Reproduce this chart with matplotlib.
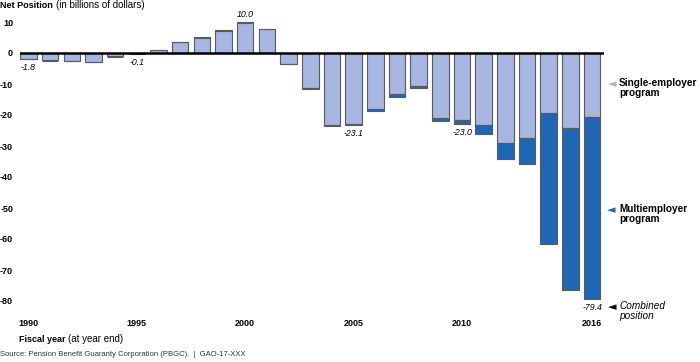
"""
Net position of PBGC single-employer and multiemployer programs, 1990-2016
"""
import matplotlib.pyplot as plt
import numpy as np

plt.rcParams['font.family'] = ['Liberation Sans', 'DejaVu Sans']

# Dữ liệu (tỷ USD)
years = np.arange(1990, 2017)
single = [-1.9, -2.5, -2.7, -2.9, -1.2, -0.3, 0.9, 3.5, 5.0, 7.0, 9.7, 7.7, -3.6, -11.2,
          -23.3, -22.8, -18.1, -13.1, -10.7, -21.1, -21.6, -23.3, -29.1, -27.4, -19.3,
          -24.1, -20.6]
multi = [0.1, 0.1, 0.1, 0.1, 0.1, 0.2, 0.2, 0.2, 0.2, 0.3, 0.3, 0.1, 0.16, -0.26,
         -0.24, -0.34, -0.74, -0.96, -0.47, -0.87, -1.4, -2.8, -5.2, -8.3, -42.4,
         -52.3, -58.8]
labeled_years = [1990, 1995, 2000, 2005, 2010, 2016]
ytick_values = [10, 0, -10, -20, -30, -40, -50, -60, -70, -80]

light = '#a7b6e0'
dark = '#1f67b4'
edge = '#5a5a5a'

single = np.array(single)
multi = np.array(multi)
combined = single + multi
light_h = np.where(multi < 0, single, combined)
dark_h = np.where(multi < 0, multi, 0)

W, H = 700, 362
fig = plt.figure(figsize=(W / 100, H / 100), dpi=100)
ax = fig.add_axes([20 / W, 1 - 316.5 / H, 584 / W, (316.5 - 12.7) / H])


def fx(px):
    return px / W


def fy(py):
    return 1 - py / H


def two_part(x, y, bold_txt, rest_txt, bsize, rsize, **kw):
    # Ghép phần chữ đậm và phần chữ thường liền nhau
    t = fig.text(fx(x), fy(y), bold_txt, fontsize=bsize, fontweight='bold', va='center', **kw)
    fig.canvas.draw()
    bb = t.get_window_extent()
    fig.text(fx(bb.x1 + 3), fy(y), rest_txt, fontsize=rsize, va='center', **kw)


ax.bar(years, light_h, width=0.76, color=light, edgecolor=edge, linewidth=0.8, zorder=2)
ax.bar(years, dark_h, width=0.76, bottom=single, color=dark, edgecolor=edge,
       linewidth=0.8, zorder=2)
ax.axhline(0, color='black', lw=1.8, zorder=3)

ax.set_xlim(1989.61, 2016.55)
ax.set_ylim(-85, 13)
for s in ax.spines.values():
    s.set_visible(False)

ax.set_yticks(ytick_values)
ax.set_yticklabels([str(v) for v in ytick_values], fontsize=6.5, fontweight='bold')
ax.tick_params(axis='y', length=0, pad=5.0)
ax.set_xticks(labeled_years)
ax.set_xticklabels([str(y) for y in labeled_years], fontsize=6.5, fontweight='bold')
ax.tick_params(axis='x', length=0, pad=2)

# Nhãn giá trị
lab_kw = dict(fontsize=6.3, style='italic', ha='center')
for yr in [1990, 1995, 2005, 2010]:
    i = yr - 1990
    ax.text(yr, min(combined[i], single[i]) - 1.3, f"{combined[i]:.1f}", va='top', **lab_kw)
ax.text(2000, combined[10] + 1.0, f"{combined[10]:.1f}", va='bottom', **lab_kw)
ax.text(2016, combined[-1] - 1.3, f"{combined[-1]:.1f}", va='top', **lab_kw)

# Chú thích bên phải
arrow_kw = dict(fontsize=8, va='center', ha='center', family=['DejaVu Sans'])
fig.text(fx(612), fy(84), '◄', color=light, **arrow_kw)
fig.text(fx(619), fy(78), 'Single-employer\nprogram', fontsize=7.2,
         fontweight='bold', va='top', linespacing=0.95)
fig.text(fx(611), fy(210), '◄', color=dark, **arrow_kw)
fig.text(fx(619), fy(204), 'Multiemployer\nprogram', fontsize=7.2,
         fontweight='bold', va='top', linespacing=0.95)
fig.text(fx(612), fy(307), '◄', color='black', **arrow_kw)
fig.text(fx(619), fy(301), 'Combined\nposition', fontsize=7.2,
         style='italic', va='top', linespacing=0.95)

# Tiêu đề, trục, nguồn
two_part(0, 5.5, 'Net Position', '(in billions of dollars)', 6.5, 7.0)
two_part(19, 339, 'Fiscal year', '(at year end)', 6.5, 7.0)
fig.text(fx(0), fy(355),
         'Source: Pension Benefit Guaranty Corporation (PBGC).  |  GAO-17-XXX',
         fontsize=5.5, color='#333333', va='center')

fig.savefig('out.png', dpi=100)
plt.close(fig)
